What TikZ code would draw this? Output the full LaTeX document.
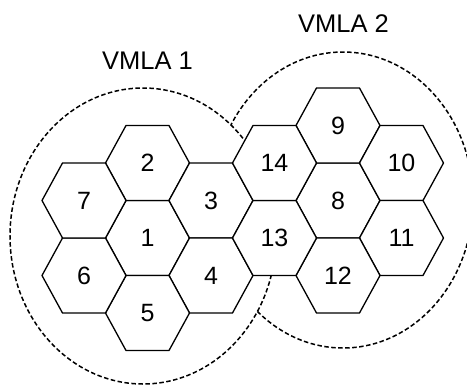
\documentclass[tikz,border=0pt]{standalone}
\usepackage{fontspec}
\setmainfont{Liberation Sans}
\begin{document}
\begin{tikzpicture}[x=1pt,y=-1pt,
  region/.style={draw=black, line width=1.5pt, dash pattern=on 4.5pt off 2.5pt},
  hexcell/.style={draw=black, line width=1.3pt, fill=white, line join=miter},
  hexlabel/.style={font=\fontsize{25}{28}\selectfont, inner sep=0pt},
  vmlalabel/.style={font=\fontsize{25.5}{28}\selectfont, inner sep=0pt}]
\useasboundingbox (0,0) rectangle (467,384);

% centres of the two location areas
\coordinate (c1) at (143,236);
\coordinate (c2) at (343,200);

% second area: only the part outside the first one stays visible
\draw[region] (c2) ellipse [x radius=130pt, y radius=148pt];
\fill[white] (c1) ellipse [x radius=133pt, y radius=148pt];
\draw[region] (c1) ellipse [x radius=133pt, y radius=148pt];

% hexagonal cells (column pitch 63.5, row pitch 37.5)
\foreach \n/\x/\y in {1/147.5/238, 2/147.5/163, 3/211/200.5, 4/211/275.5,
                      5/147.5/313, 6/84/275.5, 7/84/200.5, 8/338/200.5,
                      9/338/125.5, 10/401.5/163, 11/401.5/238, 12/338/275.5,
                      13/274.5/238, 14/274.5/163} {
  \draw[hexcell] (\x,\y) ++(-42,0) -- ++(20.5,-37.5) -- ++(43,0)
                 -- ++(20.5,37.5) -- ++(-20.5,37.5) -- ++(-43,0) -- cycle;
  \node[hexlabel] (h\n) at (\x,\y) {\n};
}

% area labels
\node[vmlalabel] (vmla1) at (147.5,61) {VMLA 1};
\node[vmlalabel] (vmla2) at (343.5,24) {VMLA 2};
\end{tikzpicture}
\end{document}
